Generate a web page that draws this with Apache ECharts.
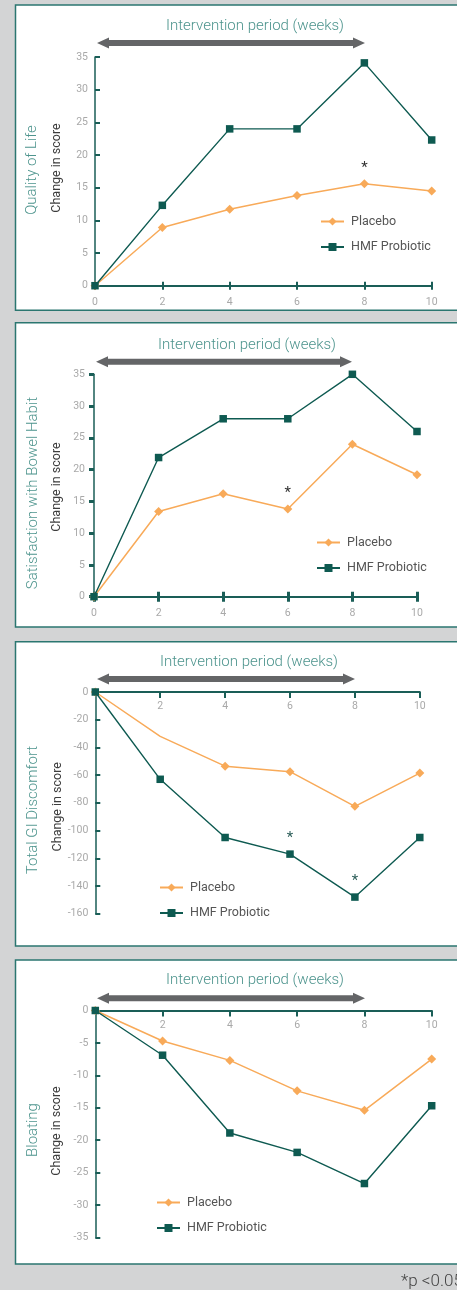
<!DOCTYPE html>
<html><head><meta charset="utf-8">
<script src="https://cdn.jsdelivr.net/npm/echarts@6/dist/echarts.min.js"></script>
<style>html,body{margin:0;padding:0;background:#d3d4d5;}#c{width:457px;height:1290px;}</style>
</head><body><div id="c"></div>
<script>
// ---- data ----
const weeks = [0, 2, 4, 6, 8, 10];
const qolPlacebo = [0, 8.9, 11.7, 13.8, 15.6, 14.5];
const qolHmf = [0, 12.3, 24, 24, 34.1, 22.3];
const bowelPlacebo = [0, 13.4, 16.2, 13.8, 24, 19.2];
const bowelHmf = [0, 21.9, 28, 28, 35, 26];
const giPlacebo = [0, -32, -53.5, -57.5, -82.5, -58.5];
const giHmf = [0, -63, -105, -117, -148, -105];
const bloatPlacebo = [0, -4.7, -7.7, -12.4, -15.4, -7.5];
const bloatHmf = [0, -6.9, -18.9, -21.9, -26.7, -14.7];
const panelTitles = ['Quality of Life', 'Satisfaction with Bowel Habit', 'Total GI Discomfort', 'Bloating'];
const seriesNames = ['Placebo', 'HMF Probiotic'];
const periodLabel = 'Intervention period (weeks)';
const yAxisLabel = 'Change in score';
const footnote = '*p <0.05';
// significance marks: [series (0 placebo / 1 HMF), week index]
const sigQol = [[0, 4]];
const sigBowel = [[0, 3]];
const sigGi = [[1, 3], [1, 4]];
const sigBloat = [];
// placebo week index drawn without a marker in GI panel
const giPlaceboNoMarker = [1];

// ---- styling / layout ----
const FONT = 'Roboto, "DejaVu Sans", sans-serif';
const TEAL = '#0e5a51';
const AXIS = '#1a5e57';
const ORANGE = '#f8aa59';
const TITLE = '#4d948d';
const TICKLBL = '#a9a9a9';

const panels = [
  { box: [5, 310.3], grid: { left: 95, top: 57, width: 336.7, height: 228.7 }, y: [0, 35, 5], xTop: false,
    pl: qolPlacebo, hm: qolHmf, sig: sigQol, sigColor: '#333', noMk: [],
    legend: { left: 315, top: 210 }, title: [255, 26], arrow: [97, 365, 43], vt: [32, 170], vc: [57, 168], style: 1 },
  { box: [322.7, 627], grid: { left: 94, top: 374.3, width: 323, height: 222.4 }, y: [0, 35, 5], xTop: false,
    pl: bowelPlacebo, hm: bowelHmf, sig: sigBowel, sigColor: '#333', noMk: [],
    legend: { left: 311, top: 531 }, title: [247, 345], arrow: [96, 352, 361.7], vt: [33, 493], vc: [57, 487], style: 2 },
  { box: [641.7, 946], grid: { left: 95.3, top: 692, width: 324.5, height: 221.7 }, y: [-160, 0, 20], xTop: true,
    pl: giPlacebo, hm: giHmf, sig: sigGi, sigColor: '#2e5f5a', noMk: giPlaceboNoMarker,
    legend: { left: 154, top: 876 }, title: [249, 662], arrow: [97, 355, 679], vt: [33, 810], vc: [58, 806.7], style: 3 },
  { box: [960, 1264], grid: { left: 95.3, top: 1010.5, width: 336.4, height: 226.8 }, y: [-35, 0, 5], xTop: true,
    pl: bloatPlacebo, hm: bloatHmf, sig: sigBloat, sigColor: '#333', noMk: [],
    legend: { left: 151, top: 1191 }, title: [255, 980.7], arrow: [97, 365, 998.3], vt: [33, 1130], vc: [57, 1131], style: 3 }
];

const grid = [], xAxis = [], yAxis = [], series = [], legend = [], graphic = [];

function arrowPts(x1, x2, y) {
  const h = 12, hh = 5.5, sh = 3;
  return [[x1, y], [x1 + h, y - hh], [x1 + h, y - sh], [x2 - h, y - sh], [x2 - h, y - hh], [x2, y],
          [x2 - h, y + hh], [x2 - h, y + sh], [x1 + h, y + sh], [x1 + h, y + hh]];
}

panels.forEach((p, i) => {
  grid.push(Object.assign({ containLabel: false }, p.grid));
  const xMain = xAxis.length;
  xAxis.push({
    type: 'value', gridIndex: i, min: 0, max: 10, interval: 2,
    position: p.xTop ? 'top' : 'bottom',
    axisLine: { show: true, onZero: false, lineStyle: { color: AXIS, width: 2 } },
    axisTick: { show: true, inside: p.xTop, length: p.style === 2 ? 5 : (p.xTop ? 6 : 4),
                lineStyle: { color: AXIS, width: p.style === 2 ? 3 : 2 } },
    axisLabel: { show: true, inside: p.xTop, margin: p.xTop ? 9 : 11, color: TICKLBL, fontSize: 10.5,
                 fontFamily: FONT, showMinLabel: !p.xTop },
    splitLine: { show: false }
  });
  if (!p.xTop) {
    xAxis.push({
      type: 'value', gridIndex: i, min: 0, max: 10, interval: 2, position: 'bottom',
      axisLine: { show: false }, axisLabel: { show: false }, splitLine: { show: false },
      axisTick: { show: true, inside: true, length: p.style === 2 ? 5 : 4,
                  lineStyle: { color: AXIS, width: p.style === 2 ? 3 : 2 } }
    });
  }
  const yMain = yAxis.length;
  yAxis.push({
    type: 'value', gridIndex: i, min: p.y[0], max: p.y[1], interval: p.y[2],
    axisLine: { show: true, onZero: false, lineStyle: { color: AXIS, width: 1.5 } },
    axisTick: { show: true, inside: p.style !== 2, length: 5, lineStyle: { color: AXIS, width: p.style === 2 ? 3 : 2 } },
    axisLabel: { show: true, margin: p.style === 2 ? 9 : 7, color: TICKLBL, fontSize: 10.5, fontFamily: FONT },
    splitLine: { show: false }
  });
  if (p.style === 2) {
    yAxis.push({
      type: 'value', gridIndex: i, min: p.y[0], max: p.y[1], interval: p.y[2],
      axisLine: { show: false }, axisLabel: { show: false }, splitLine: { show: false },
      axisTick: { show: true, inside: true, length: 5, lineStyle: { color: AXIS, width: 3 } }
    });
  }
  const mkPoints = (which) => p.sig.filter(s => s[0] === which).map(s => ({
    coord: [weeks[s[1]], (which === 0 ? p.pl : p.hm)[s[1]]]
  }));
  const markPoint = (which) => ({
    symbol: 'circle', symbolSize: 1, itemStyle: { color: 'rgba(0,0,0,0)' },
    label: { show: true, formatter: '*', color: p.sigColor, fontSize: 15, fontFamily: FONT, offset: [0, -16] },
    data: mkPoints(which)
  });
  series.push({
    name: seriesNames[0], type: 'line', xAxisIndex: xMain, yAxisIndex: yMain,
    data: weeks.map((w, k) => p.noMk.includes(k) ? { value: [w, p.pl[k]], symbol: 'none' } : [w, p.pl[k]]),
    symbol: 'diamond', symbolSize: 9, showAllSymbol: true,
    itemStyle: { color: ORANGE }, lineStyle: { color: ORANGE, width: 1.5 },
    markPoint: markPoint(0), z: 3
  });
  series.push({
    name: seriesNames[1], type: 'line', xAxisIndex: xMain, yAxisIndex: yMain,
    data: weeks.map((w, k) => [w, p.hm[k]]),
    symbol: 'rect', symbolSize: 7.5, showAllSymbol: true,
    itemStyle: { color: TEAL }, lineStyle: { color: TEAL, width: 1.4 },
    markPoint: markPoint(1), z: 4
  });
  legend.push({
    orient: 'vertical', left: p.legend.left, top: p.legend.top, itemWidth: 23, itemHeight: 10, itemGap: 12.5,
    selectedMode: false, data: seriesNames,
    textStyle: { color: '#555', fontSize: 12.5, fontFamily: FONT, padding: [0, 0, 0, 2] }
  });
  // panel box
  graphic.push({ type: 'rect', z: -100, shape: { x: 15.5, y: p.box[0], width: 480, height: p.box[1] - p.box[0] },
    style: { fill: '#fff', stroke: '#2b7670', lineWidth: 1.5 } });
  graphic.push({ type: 'text', x: p.title[0], y: p.title[1], style: { text: periodLabel, fill: TITLE, fontSize: 15,
    fontWeight: 300, fontFamily: FONT, textAlign: 'center', textVerticalAlign: 'middle' } });
  graphic.push({ type: 'polygon', shape: { points: arrowPts(p.arrow[0], p.arrow[1], p.arrow[2]) }, style: { fill: '#646567' } });
  graphic.push({ type: 'text', x: p.vt[0], y: p.vt[1], rotation: Math.PI / 2, style: { text: panelTitles[i], fill: TITLE,
    fontSize: 15, fontWeight: 300, fontFamily: FONT, textAlign: 'center', textVerticalAlign: 'middle' } });
  graphic.push({ type: 'text', x: p.vc[0], y: p.vc[1], rotation: Math.PI / 2, style: { text: yAxisLabel, fill: '#3d3d3d',
    fontSize: 12.5, fontFamily: FONT, textAlign: 'center', textVerticalAlign: 'middle' } });
});
graphic.push({ type: 'text', x: 401, y: 1282, style: { text: footnote, fill: '#444', fontSize: 17, fontWeight: 300,
  fontFamily: FONT, textAlign: 'left', textVerticalAlign: 'middle' } });

const chart = echarts.init(document.getElementById('c'), null, { renderer: 'canvas' });
chart.setOption({ animation: false, backgroundColor: '#d3d4d5', grid, xAxis, yAxis, series, legend, graphic });
</script></body></html>
